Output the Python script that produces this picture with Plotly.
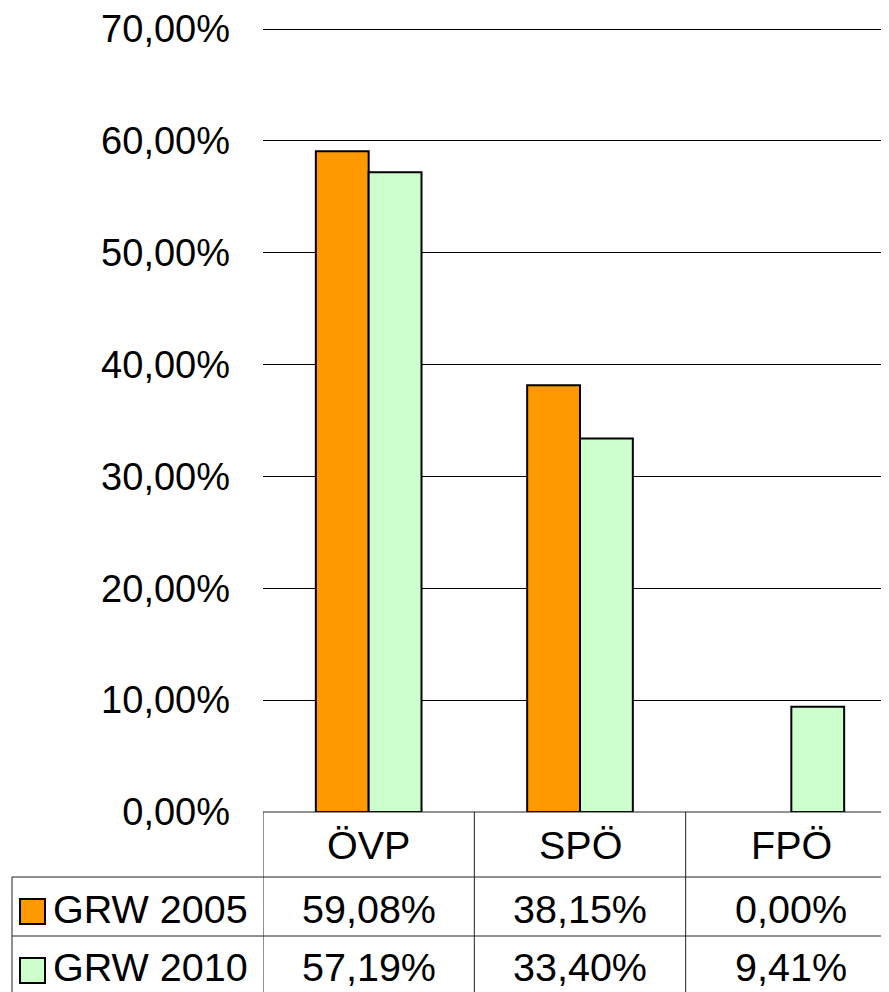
import plotly.graph_objects as go

categories = ["ÖVP", "SPÖ", "FPÖ"]
series_names = ["GRW 2005", "GRW 2010"]
grw2005 = [0.5908, 0.3815, 0.0]
grw2010 = [0.5719, 0.3340, 0.0941]
colors = ["#FF9900", "#CCFFCC"]
y_ticks = [0, 0.1, 0.2, 0.3, 0.4, 0.5, 0.6, 0.7]
y_max = 0.7

OFF = 8  # page body margin in the rendered html
W, H = 889, 992
# target page pixel positions (plot area; top = where 70% sits)
PL, PR, PT, PB = 263, 897, 29, 812
PAD_TOP = 3  # extra px above the top gridline so it is not dropped at the edge
UNIT_PX = (PB - PT) / y_max
ML, MT = PL - OFF, PT - OFF - PAD_TOP
MR = W - (PR - OFF)
MB = H - (PB - OFF)
PW = W - ML - MR
PH = H - MT - MB
FONT = dict(family="Liberation Sans, Arial, sans-serif", size=38, color="black")
TFONT = dict(family="Liberation Sans, Arial, sans-serif", size=39.5, color="black")


def px_x(p):
    return (p - PL) / PW


def px_y(p):
    return (PB - p) / PH


def fmt(v):
    return f"{v*100:.2f}%".replace(".", ",")


fig = go.Figure()
for name, vals, col in zip(series_names, [grw2005, grw2010], colors):
    fig.add_trace(go.Bar(
        x=categories, y=[v if v != 0 else None for v in vals], name=name,
        marker=dict(color=col, line=dict(color="black", width=2)),
    ))

shapes = []
line = dict(color="#222222", width=1)
shapes.append(dict(type="line", xref="paper", yref="paper", x0=0, x1=1, y0=0, y1=0, line=line))
for p in [877, 936]:
    shapes.append(dict(type="line", xref="paper", yref="paper", x0=px_x(12), x1=1,
                       y0=px_y(p), y1=px_y(p), line=line))
for xb in [-0.5, 0.5, 1.5]:
    shapes.append(dict(type="line", xref="x", yref="paper", x0=xb, x1=xb,
                       y0=0, y1=px_y(1005), line=line))
shapes.append(dict(type="line", xref="paper", yref="paper", x0=px_x(12), x1=px_x(12),
                   y0=px_y(877), y1=px_y(1005), line=line))

annotations = []
for c in categories:
    annotations.append(dict(x=c, xref="x", y=px_y(845), yref="paper", text=c,
                            showarrow=False, font=TFONT, xanchor="center", yanchor="middle"))
row_y = [909, 967]
key_y = [(899, 924), (958, 983)]
for name, vals, col, ry, (k0, k1) in zip(series_names, [grw2005, grw2010], colors, row_y, key_y):
    for c, v in zip(categories, vals):
        annotations.append(dict(x=c, xref="x", y=px_y(ry), yref="paper", text=fmt(v),
                                showarrow=False, font=TFONT, xanchor="center", yanchor="middle"))
    annotations.append(dict(x=px_x(51), xref="paper", y=px_y(ry), yref="paper", text=name,
                            showarrow=False, font=TFONT, xanchor="left", yanchor="middle"))
    shapes.append(dict(type="rect", xref="paper", yref="paper", x0=px_x(20), x1=px_x(45),
                       y0=px_y(k1), y1=px_y(k0), fillcolor=col, line=dict(color="black", width=2)))

fig.update_layout(
    width=W, height=H,
    margin=dict(l=ML, r=MR, t=MT, b=MB, pad=0, autoexpand=False),
    paper_bgcolor="white", plot_bgcolor="white",
    showlegend=False,
    barmode="group",
    bargap=0.5,
    bargroupgap=0,
    separators=",.",
    font=FONT,
    shapes=shapes,
    annotations=annotations,
    xaxis=dict(range=[-0.5, 2.5], showticklabels=False, showgrid=False,
               showline=False, zeroline=False, ticks="", automargin=False),
    yaxis=dict(range=[0, y_max + PAD_TOP / UNIT_PX], tickvals=y_ticks, tickformat=".2%",
               showgrid=True, gridcolor="black", gridwidth=1,
               zeroline=False, showline=False, ticks="",
               ticklabelstandoff=32, tickfont=FONT, automargin=False,
               ticklabeloverflow="allow"),
)

fig.write_html("out.html")
